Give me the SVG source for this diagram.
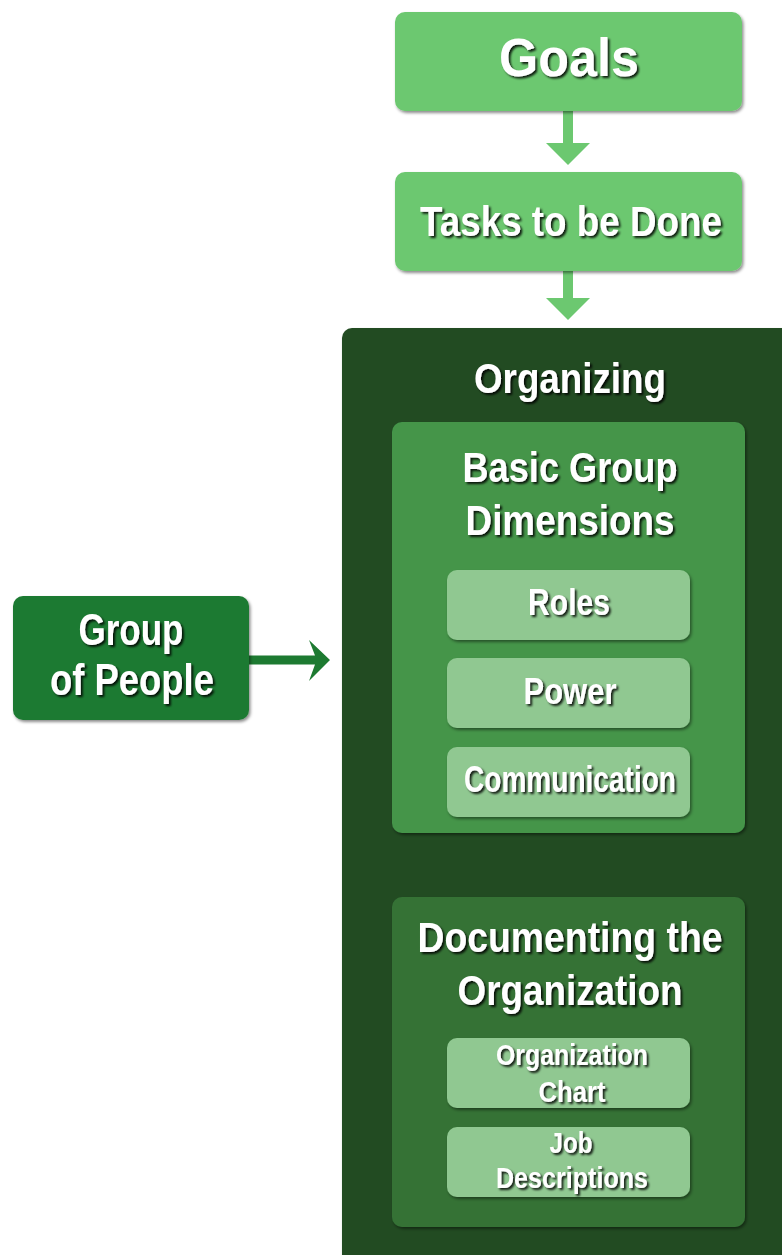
<svg xmlns="http://www.w3.org/2000/svg" width="782" height="1255" viewBox="0 0 782 1255">
<defs>
<filter id="bs" x="-10%" y="-10%" width="120%" height="125%"><feDropShadow dx="1.5" dy="2" stdDeviation="1.5" flood-color="#000" flood-opacity="0.45"/></filter>
<filter id="ts" x="-10%" y="-20%" width="120%" height="150%"><feDropShadow dx="2" dy="2" stdDeviation="0.8" flood-color="#000" flood-opacity="0.85"/></filter>
</defs>
<style>
text{font-family:"Liberation Sans",Arial,sans-serif;font-weight:bold;fill:#fff;text-anchor:middle;filter:url(#ts)}
.light{fill:#6cc870}
.item{fill:#90c891}
</style>
<g id="connectors">
<path d="M563 111 H573 V143 H590 L568 165 L546 143 H563 Z" fill="#6cc870"/>
<path d="M563 271 H573 V298 H590 L568 320 L546 298 H563 Z" fill="#6cc870"/>
<path d="M249 655.5 H315 L309 640 L330 660 L309 681 L315 664.5 H249 Z" fill="#1d7a31"/>
</g>
<g id="goals"><rect class="light" x="395" y="12" width="347" height="99" rx="10" filter="url(#bs)"/><text x="569" y="76" font-size="53" textLength="140" lengthAdjust="spacingAndGlyphs">Goals</text></g>
<g id="tasks"><rect class="light" x="395" y="172" width="347" height="99" rx="10" filter="url(#bs)"/><text x="571" y="236" font-size="43" textLength="302" lengthAdjust="spacingAndGlyphs">Tasks to be Done</text></g>
<g id="organizing"><rect x="342" y="328" width="460" height="950" rx="10" fill="#234b23" filter="url(#bs)"/><text x="570" y="393" font-size="43" textLength="192" lengthAdjust="spacingAndGlyphs">Organizing</text></g>
<g id="basic"><rect x="392" y="422" width="353" height="411" rx="10" fill="#44954a" filter="url(#bs)"/><text x="570" y="482" font-size="43" textLength="215" lengthAdjust="spacingAndGlyphs">Basic Group</text><text x="570" y="535" font-size="43" textLength="209" lengthAdjust="spacingAndGlyphs">Dimensions</text></g>
<g id="roles"><rect class="item" x="447" y="570" width="243" height="70" rx="10" filter="url(#bs)"/><text x="569" y="615" font-size="36" textLength="82" lengthAdjust="spacingAndGlyphs">Roles</text></g>
<g id="power"><rect class="item" x="447" y="658" width="243" height="70" rx="10" filter="url(#bs)"/><text x="570" y="704" font-size="36" textLength="93" lengthAdjust="spacingAndGlyphs">Power</text></g>
<g id="communication"><rect class="item" x="447" y="747" width="243" height="70" rx="10" filter="url(#bs)"/><text x="570" y="792" font-size="37" textLength="212" lengthAdjust="spacingAndGlyphs">Communication</text></g>
<g id="documenting"><rect x="392" y="897" width="353" height="330" rx="10" fill="#357236" filter="url(#bs)"/><text x="570" y="952" font-size="43" textLength="305" lengthAdjust="spacingAndGlyphs">Documenting the</text><text x="570" y="1005" font-size="43" textLength="225" lengthAdjust="spacingAndGlyphs">Organization</text></g>
<g id="orgchart"><rect class="item" x="447" y="1038" width="243" height="70" rx="10" filter="url(#bs)"/><text x="572" y="1065" font-size="29" textLength="152" lengthAdjust="spacingAndGlyphs">Organization</text><text x="572" y="1102" font-size="29" textLength="67" lengthAdjust="spacingAndGlyphs">Chart</text></g>
<g id="jobdesc"><rect class="item" x="447" y="1127" width="243" height="70" rx="10" filter="url(#bs)"/><text x="571" y="1153" font-size="29" textLength="43" lengthAdjust="spacingAndGlyphs">Job</text><text x="572" y="1188" font-size="29" textLength="152" lengthAdjust="spacingAndGlyphs">Descriptions</text></g>
<g id="people"><rect x="13" y="596" width="236" height="124" rx="10" fill="#1d7a31" filter="url(#bs)"/><text x="131" y="645" font-size="45" textLength="105" lengthAdjust="spacingAndGlyphs">Group</text><text x="132" y="695" font-size="45" textLength="164" lengthAdjust="spacingAndGlyphs">of People</text></g>
</svg>
